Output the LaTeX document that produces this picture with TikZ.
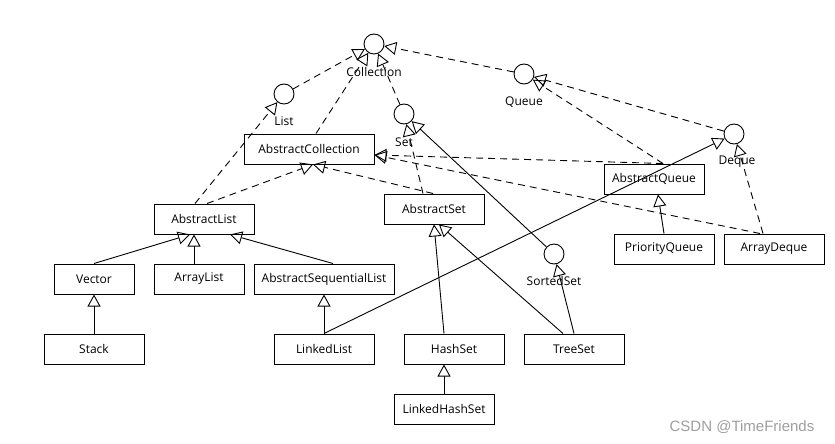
\documentclass[tikz,border=0pt]{standalone}
\usepackage{fontspec}
\setmainfont{Open Sans}
\newfontfamily\wmfont{Liberation Sans}
\usetikzlibrary{arrows.meta}
\begin{document}
\begin{tikzpicture}[x=1pt,y=1pt,
  every node/.style={font=\fontsize{12}{14}\selectfont},
  cls/.style={draw, rectangle, line width=1pt, minimum height=30pt, inner sep=0pt},
  ifc/.style={draw, circle, line width=0.9pt, minimum size=20pt, inner sep=0pt},
  lbl/.style={inner sep=0pt},
  conn/.style={line width=0.9pt, -{Triangle[open, length=12pt, width=13pt, line width=0.9pt]}},
  realz/.style={conn, dash pattern=on 7pt off 5pt},
  gen/.style={conn}
]
\useasboundingbox (0,0) rectangle (835,-444);

% interfaces
\node[ifc] (coll) at (374,-44) {};
\node[ifc] (list) at (284,-94) {};
\node[ifc] (set) at (404,-114) {};
\node[ifc] (queue) at (524,-74) {};
\node[ifc] (deque) at (734,-134) {};
\node[ifc] (sorted) at (554,-254) {};
\node[lbl] (collL) at (374,-72) {Collection};
\node[lbl] (listL) at (284,-121) {List};
\node[lbl] (setL) at (404,-142) {Set};
\node[lbl] (queueL) at (524,-102) {Queue};
\node[lbl] (dequeL) at (737,-162) {Deque};
\node[lbl] (sortedL) at (554,-281) {SortedSet};

% classes
\node[cls, minimum width=130pt] (ac) at (309,-149) {AbstractCollection};
\node[cls, minimum width=100pt] (al) at (204,-219) {AbstractList};
\node[cls, minimum width=100pt] (as) at (434,-209) {AbstractSet};
\node[cls, minimum width=100pt] (aq) at (654,-179) {AbstractQueue};
\node[cls, minimum width=80pt] (vec) at (94,-279) {Vector};
\node[cls, minimum width=90pt] (arl) at (199,-279) {ArrayList};
\node[cls, minimum width=140pt] (asl) at (324,-279) {AbstractSequentialList};
\node[cls, minimum width=100pt] (stk) at (94,-349) {Stack};
\node[cls, minimum width=100pt] (ll) at (324,-349) {LinkedList};
\node[cls, minimum width=100pt] (hs) at (454,-349) {HashSet};
\node[cls, minimum width=100pt] (ts) at (574,-349) {TreeSet};
\node[cls, minimum width=100pt] (lhs) at (444,-409) {LinkedHashSet};
\node[cls, minimum width=100pt] (pq) at (664,-249) {PriorityQueue};
\node[cls, minimum width=100pt] (ad) at (774,-249) {ArrayDeque};

% realization (dashed)
\draw[realz] (list) -- (coll);
\draw[realz] ([xshift=7pt]ac.north) -- (coll);
\draw[realz] (set) -- (coll);
\draw[realz] (queue) -- (coll);
\draw[realz] ([xshift=-9pt]al.north) -- (list);
\draw[realz] ([xshift=3pt]al.north) -- ([xshift=4pt]ac.south);
\draw[realz] ([xshift=-1pt]as.north) -- ([xshift=4pt]ac.south);
\draw[realz] ([xshift=-11pt]as.north) -- (set);
\draw[realz] ([xshift=9pt]aq.north) -- ([yshift=-6pt]ac.east);
\draw[realz] ([xshift=-14pt]ad.north) -- ([yshift=-6pt]ac.east);
\draw[realz] ([xshift=9pt]aq.north) -- (queue);
\draw[realz] (deque) -- (queue);
\draw[realz] ([xshift=-11pt]ad.north) -- (deque);

% generalization (solid)
\draw[gen] (sorted) -- (set);
\draw[gen] (pq.north) -- ([xshift=4pt]aq.south);
\draw[gen] (ll.north) -- (deque);
\draw[gen] (ll.north) -- (asl.south);
\draw[gen] ([xshift=9pt]asl.north) -- ([xshift=26pt]al.south);
\draw[gen] (vec.north) -- ([xshift=-14pt]al.south);
\draw[gen] ([xshift=-5pt]arl.north) -- ([xshift=-10pt]al.south);
\draw[gen] (stk.north) -- (vec.south);
\draw[gen] ([xshift=-10pt]hs.north) -- (as.south);
\draw[gen] ([xshift=-11pt]ts.north) -- ([xshift=5pt]as.south);
\draw[gen] (ts.north) -- (sorted);
\draw[gen] (lhs.north) -- ([xshift=-10pt]hs.south);

% watermark
\node[lbl, text=black!38, font=\wmfont\fontsize{15}{17}\selectfont] (wm) at (742,-427) {CSDN @TimeFriends};
\end{tikzpicture}
\end{document}
